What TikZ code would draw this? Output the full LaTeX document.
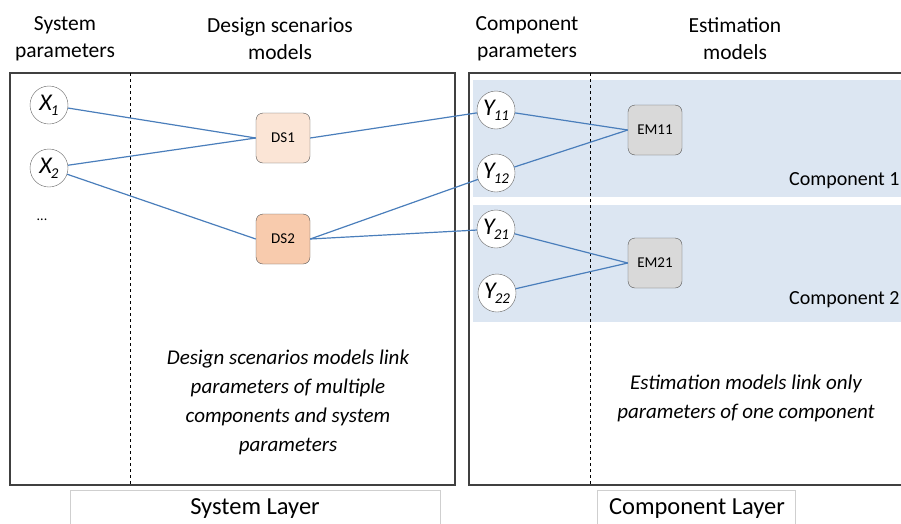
\documentclass[tikz,border=0pt]{standalone}
\usepackage{fontspec}
\setmainfont{Carlito}
\usepackage{tikz}
\usetikzlibrary{arrows.meta, positioning, calc}
\definecolor{linkblue}{RGB}{74, 126, 187}
\definecolor{panelblue}{RGB}{220, 230, 242}
\definecolor{dslight}{RGB}{251, 229, 214}
\definecolor{dsdark}{RGB}{248, 203, 173}
\definecolor{emgray}{RGB}{217, 217, 217}
\definecolor{frame}{RGB}{64, 64, 64}
\newcommand{\pvar}[2]{{\fontsize{24}{24}\selectfont\itshape #1}\kern-1pt{\fontsize{15}{15}\selectfont\itshape\raisebox{-5pt}{#2}}}
\tikzset{
  param/.style={circle, draw=frame!80, fill=white, minimum size=38pt, inner sep=0pt},
  dsbox/.style={draw=frame!90, rounded corners=7pt, minimum width=54pt, minimum height=50pt, font=\fontsize{15}{15}\selectfont},
  link/.style={linkblue, line width=1.2pt},
  head/.style={align=center, font=\fontsize{21.5}{27}\selectfont},
  note/.style={align=center, font=\fontsize{21}{29}\selectfont\itshape},
  layer/.style={font=\fontsize{24.5}{24.5}\selectfont}
}
\begin{document}
\begin{tikzpicture}[x=1pt, y=-1pt]
  \useasboundingbox (0,0) rectangle (901,523);
  \clip (0,0) rectangle (901,523);
  % Layer frames
  \draw[frame, line width=1.5pt] (10,73) rectangle (455,485);
  \draw[frame, line width=1.5pt] (469,73) rectangle (910,485);
  % Component panels
  \fill[panelblue] (473,80) rectangle (905,197);
  \fill[panelblue] (473,205) rectangle (905,322);
  \draw[dashed, line width=0.9pt] (130,73) -- (130,485);
  \draw[dashed, line width=0.9pt] (590,73) -- (590,485);
  % Column headings
  \node[head] (hsys) at (65,39) {System\\parameters};
  \node[head] (hds) at (280,39) {Design scenarios\\models};
  \node[head] (hcomp) at (527,39) {Component\\parameters};
  \node[head] (hem) at (735,39) {Estimation\\models};
  % System parameters
  \node[param] (x1) at (49,105) {\pvar{X}{1}};
  \node[param] (x2) at (49,168) {\pvar{X}{2}};
  \node[font=\fontsize{14}{14}\selectfont] (dots) at (42,220) {...};
  % Design scenarios models
  \node[dsbox, fill=dslight] (ds1) at (283,138) {DS1};
  \node[dsbox, fill=dsdark] (ds2) at (283,239) {DS2};
  % Component parameters
  \node[param] (y11) at (496,110) {\pvar{Y}{11}};
  \node[param] (y12) at (496,173) {\pvar{Y}{12}};
  \node[param] (y21) at (496,229) {\pvar{Y}{21}};
  \node[param] (y22) at (497,293) {\pvar{Y}{22}};
  % Estimation models
  \node[dsbox, fill=emgray] (em11) at (655,130) {EM11};
  \node[dsbox, fill=emgray] (em21) at (655,263) {EM21};
  \node[anchor=east, font=\fontsize{20}{20}\selectfont] (c1) at (903,181) {Component 1};
  \node[anchor=east, font=\fontsize{20}{20}\selectfont] (c2) at (903,300) {Component 2};
  % Links
  \draw[link] (x1) -- (ds1.west);
  \draw[link] (x2) -- (ds1.west);
  \draw[link] (x2) -- (ds2.west);
  \draw[link] (ds1.east) -- (y11);
  \draw[link] (ds2.east) -- (y12);
  \draw[link] (ds2.east) -- (y21);
  \foreach \p in {y11, y12}
    \draw[link] (\p) -- (em11.west);
  \foreach \p in {y21, y22}
    \draw[link] (\p) -- (em21.west);
  % Notes
  \node[note] (nds) at (288,402) {Design scenarios models link\\parameters of multiple\\components and system\\parameters};
  \node[note] (nem) at (746,398) {Estimation models link only\\parameters of one component};
  % Layer labels
  \draw[frame!25, line width=0.8pt] (70,530) |- (440,490) -- (440,530);
  \draw[frame!25, line width=0.8pt] (597,530) |- (795,490) -- (795,530);
  \node[layer] (lsys) at (255,509) {System Layer};
  \node[layer] (lcomp) at (697,509) {Component Layer};
\end{tikzpicture}
\end{document}
